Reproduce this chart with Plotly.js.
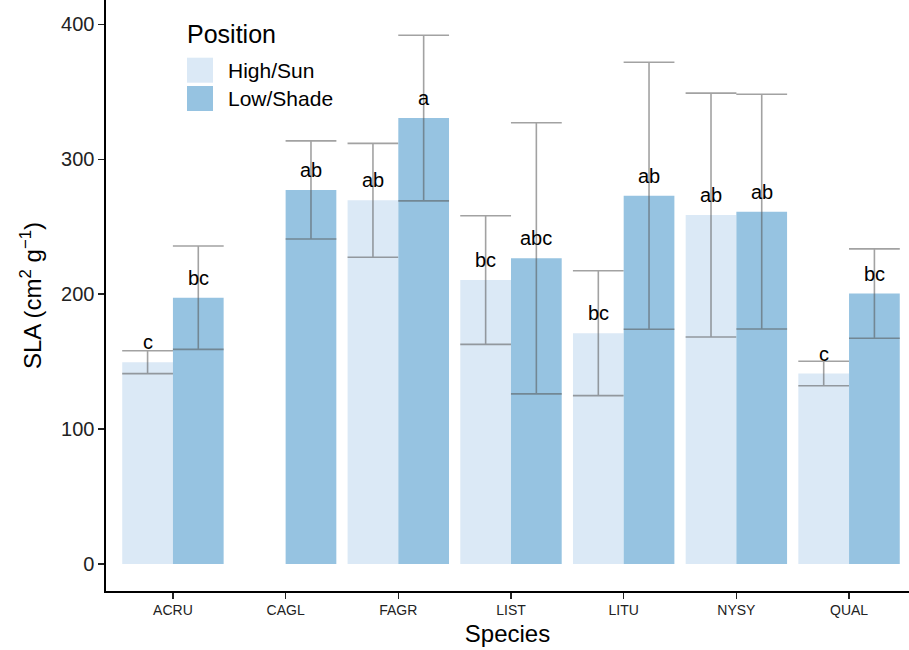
<!DOCTYPE html>
<html>
<head>
<meta charset="utf-8">
<script src="https://cdn.plot.ly/plotly-3.0.1.min.js"></script>
<style>html,body{margin:0;padding:0;background:#fff;}#chart{width:909px;height:650px;}</style>
</head>
<body>
<div id="chart"></div>
<script>
// ---- data ----
const species = ["ACRU", "CAGL", "FAGR", "LIST", "LITU", "NYSY", "QUAL"];
const seriesNames = ["High/Sun", "Low/Shade"];
const highSLA = [149.6, null, 269.6, 210.5, 171.1, 258.7, 141.2];
const highErr = [8.5, null, 42.2, 47.7, 46.3, 90.4, 9.1];
const highLetters = ["c", "", "ab", "bc", "bc", "ab", "c"];
const lowSLA = [197.4, 277.3, 330.6, 226.6, 273.0, 261.2, 200.5];
const lowErr = [38.3, 36.4, 61.4, 100.5, 99.0, 87.0, 33.1];
const lowLetters = ["bc", "ab", "a", "abc", "ab", "ab", "bc"];

// ---- style ----
const colors = ["rgb(219,233,246)", "rgb(150,195,225)"];
const errColor = "rgba(85,85,85,0.55)";
const FONT = "Liberation Sans, Arial, sans-serif";
const W = 909, H = 650;
const M = {l: 106, r: 0, t: 0, b: 59};
const plotW = W - M.l - M.r, plotH = H - M.t - M.b;
const px2x = p => (p - M.l) / plotW;
const px2y = p => 1 - (p - M.t) / plotH;
const barOffsetPx = 25.4;

function barTrace(name, y, err, color) {
  return {
    type: "bar", name: name, x: species, y: y,
    marker: {color: color, line: {width: 0}},
    error_y: {type: "data", array: err, visible: true, color: errColor, thickness: 1.6, width: 25.4},
    showlegend: false, hoverinfo: "x+y"
  };
}

const data = [
  barTrace(seriesNames[0], highSLA, highErr, colors[0]),
  barTrace(seriesNames[1], lowSLA, lowErr, colors[1])
];

const annotations = [];
function addLetters(vals, letters, shift) {
  species.forEach((s, i) => {
    if (vals[i] == null || !letters[i]) return;
    annotations.push({
      x: s, y: vals[i], xref: "x", yref: "y", text: letters[i], showarrow: false,
      xshift: shift, yanchor: "bottom", yshift: 7,
      font: {family: FONT, size: 20, color: "#000"}
    });
  });
}
addLetters(highSLA, highLetters, -barOffsetPx);
addLetters(lowSLA, lowLetters, barOffsetPx);

// manual legend
const shapes = [];
annotations.push({
  xref: "paper", yref: "paper", x: px2x(185), y: px2y(33.5), xanchor: "left", yanchor: "middle",
  text: "Position", showarrow: false, font: {family: FONT, size: 25, color: "#000"}
});
const swTop = [57.7, 86];
const swH = 25;
seriesNames.forEach((n, k) => {
  shapes.push({
    type: "rect", xref: "paper", yref: "paper",
    x0: px2x(187), x1: px2x(213), y0: px2y(swTop[k] + swH), y1: px2y(swTop[k]),
    fillcolor: colors[k], line: {width: 0}
  });
  annotations.push({
    xref: "paper", yref: "paper", x: px2x(226), y: px2y(swTop[k] + swH / 2 + 0.5),
    xanchor: "left", yanchor: "middle", text: n, showarrow: false,
    font: {family: FONT, size: 21, color: "#000"}
  });
});

const layout = {
  width: W, height: H,
  margin: M,
  paper_bgcolor: "#fff", plot_bgcolor: "#fff",
  barmode: "group", bargap: 0.1, bargroupgap: 0,
  showlegend: false,
  font: {family: FONT, color: "#000"},
  xaxis: {
    type: "category", range: [-0.594, 6.532],
    showline: true, linecolor: "#000", linewidth: 1.6, mirror: false,
    ticks: "outside", ticklen: 6, tickwidth: 1.5, tickcolor: "#222",
    showgrid: false, zeroline: false,
    tickfont: {family: FONT, size: 14, color: "#222"},
    title: {text: "Species", font: {family: FONT, size: 24, color: "#000"}, standoff: 8}
  },
  yaxis: {
    range: [-20, 418.1],
    tickvals: [0, 100, 200, 300, 400],
    showline: true, linecolor: "#000", linewidth: 1.6,
    ticks: "outside", ticklen: 6, tickwidth: 1.5, tickcolor: "#222",
    showgrid: false, zeroline: false,
    tickfont: {family: FONT, size: 20, color: "#222"},
    title: {text: "SLA (cm<sup>2</sup> g<sup>\u22121</sup>)", font: {family: FONT, size: 24, color: "#000"}, standoff: 12}
  },
  annotations: annotations,
  shapes: shapes
};

Plotly.newPlot("chart", data, layout, {displayModeBar: false, staticPlot: true});
</script>
</body>
</html>
